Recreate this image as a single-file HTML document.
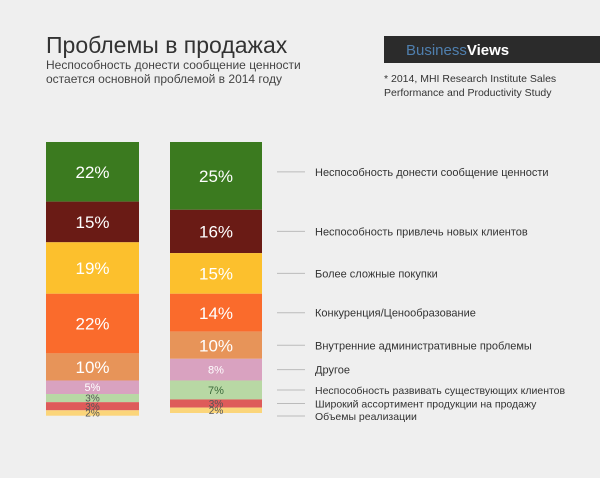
<!DOCTYPE html>
<html><head><meta charset="utf-8"><style>
body{margin:0;background:#efefef;width:600px;height:473px;overflow:hidden;font-family:"Liberation Sans","DejaVu Sans",sans-serif}
</style></head><body>
<svg width="600" height="473" xmlns="http://www.w3.org/2000/svg">
<rect width="600" height="473" fill="#efefef"/>
<text x="46" y="53" font-size="23" fill="#333">Проблемы в продажах</text>
<text x="46" y="69" font-size="12" fill="#444">Неспособность донести сообщение ценности</text>
<text x="46" y="83" font-size="12" fill="#444">остается основной проблемой в 2014 году</text>
<rect x="384" y="36" width="216" height="27" fill="#2b2b2b"/>
<text x="406" y="55" font-size="15"><tspan fill="#4f7fae">Business</tspan><tspan fill="#fff" font-weight="bold">Views</tspan></text>
<text x="384" y="82" font-size="10.5" fill="#333">* 2014, MHI Research Institute Sales</text>
<text x="384" y="96" font-size="10.5" fill="#333">Performance and Productivity Study</text>
<g id="bars"></g>
</svg>
<script>
const categories=["Неспособность донести сообщение ценности","Неспособность привлечь новых клиентов","Более сложные покупки","Конкуренция/Ценообразование","Внутренние административные проблемы","Другое","Неспособность развивать существующих клиентов","Широкий ассортимент продукции на продажу","Объемы реализации"];
const series1=[22,15,19,22,10,5,3,3,2];
const series2=[25,16,15,14,10,8,7,3,2];
const colors=["#3b7a1f","#6a1b15","#fcc02d","#fa6b2c","#e79459","#d9a2c0","#b8d8a4","#de5b5a","#fbd57a"];
const textColors=["#fff","#fff","#fff","#fff","#fff","#fff","#555","#555","#555"];
const NS="http://www.w3.org/2000/svg";
const g=document.getElementById('bars');
const top0=142, scale=2.71;
const yPos=v=>top0+v*scale;
function mk(tag,attrs){const e=document.createElementNS(NS,tag);for(const k in attrs)e.setAttribute(k,attrs[k]);g.appendChild(e);return e;}
function drawBar(data,x,w,name){
  let cum=0;const centers=[];
  data.forEach((v,i)=>{
    const y0=yPos(cum),y1=yPos(cum+v);
    const r=mk('rect',{x:x,y:y0,width:w,height:y1-y0,fill:colors[i]});
    
    
    const h=y1-y0;const fs=h>24?17:(h>12?11:10);
    const t=mk('text',{x:x+w/2,y:(y0+y1)/2+fs*0.36,'font-size':fs,'text-anchor':'middle',fill:(name==='bar-2014b'&&i===6)?'#3b6a3b':textColors[i]});
    t.textContent=v+'%';
    
    
    centers.push((y0+y1)/2);cum+=v;
  });
  return centers;
}
drawBar(series1,46,93,'bar-2014a');
const c2=drawBar(series2,170,92,'bar-2014b');
let prev=-100;
c2.forEach((c,i)=>{
  let y=Math.max(i===0?c-4:c,prev+12.5);prev=y;
  const l=mk('line',{x1:277,x2:305,y1:y,y2:y,stroke:'#bbb','stroke-width':1});
  
  
  const t=mk('text',{x:315,y:y+4,'font-size':i>=6?10.5:11,fill:'#333'});
  t.textContent=categories[i];
  
  
});
</script>
</body></html>
